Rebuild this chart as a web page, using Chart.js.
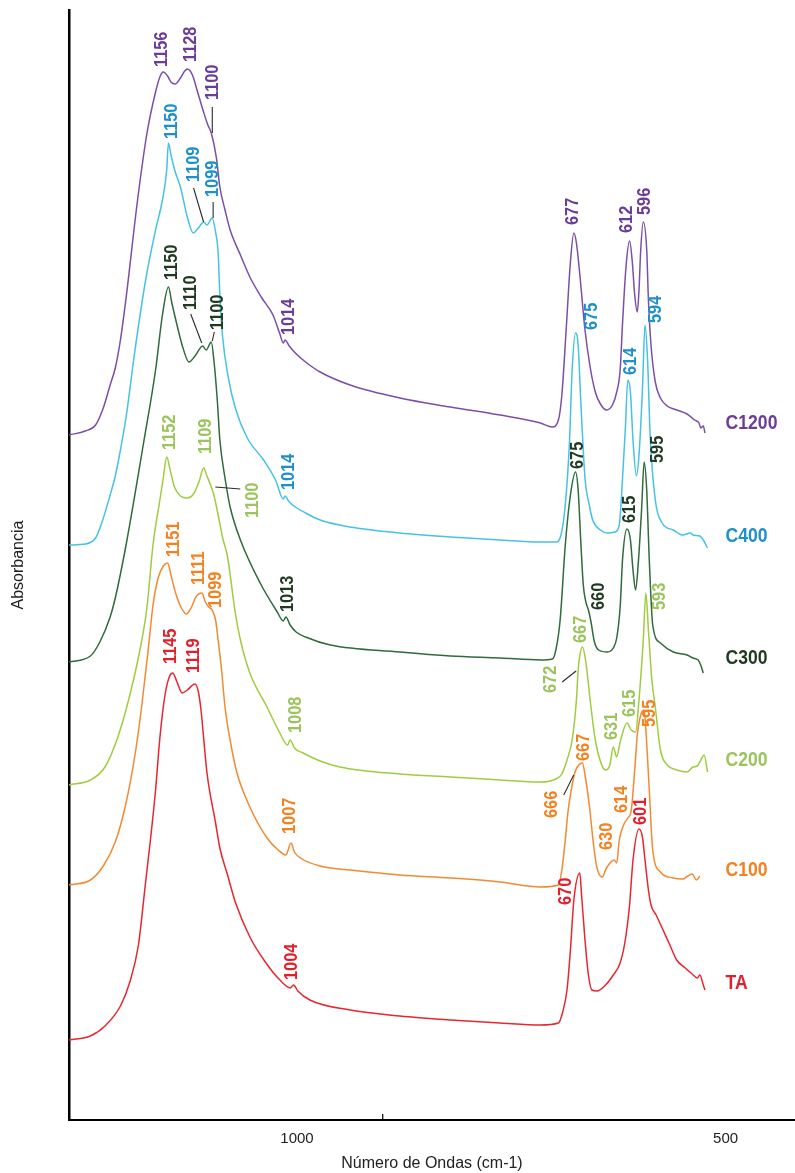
<!DOCTYPE html>
<html>
<head>
<meta charset="utf-8">
<title>Espectros FTIR</title>
<script src="https://cdn.jsdelivr.net/npm/chart.js@4/dist/chart.umd.min.js"></script>
<style>
  html, body { margin: 0; padding: 0; background: #fff; }
  canvas { display: block; }
</style>
</head>
<body>
<canvas id="c" width="795" height="1173"></canvas>
<script>
// Stacked absorbance spectra: [wavenumber (cm-1), absorbance (a.u., offset per sample)]
const c1200 = [[1266,0.685],[1247,0.689],[1235,0.695],[1226,0.712],[1218,0.735],[1212,0.752],[1206,0.780],[1199,0.825],[1186,0.920],[1175,0.987],
  [1165,1.028],[1160,1.043],[1156,1.048],[1151,1.044],[1147,1.038],[1142,1.036],[1136,1.042],[1131,1.049],[1128,1.051],[1122,1.045],
  [1116,1.028],[1109,1.008],[1104,0.995],[1100,0.987],[1094,0.962],[1090,0.933],[1084,0.910],[1078,0.890],[1066,0.865],[1055,0.843],
  [1041,0.822],[1028,0.805],[1020,0.786],[1016,0.777],[1014,0.780],[1009,0.774],[1002,0.767],[990,0.758],[973,0.748],[938,0.735],
  [880,0.722],[821,0.713],[763,0.705],[716,0.697],[702,0.693],[695,0.700],[691,0.725],[686,0.790],[681,0.858],[677,0.887],
  [674,0.877],[670,0.845],[664,0.790],[658,0.753],[652,0.728],[646,0.716],[639,0.710],[632,0.715],[627,0.728],[623,0.750],
  [620,0.800],[616,0.855],[612,0.879],[609,0.860],[606,0.825],[603,0.808],[601,0.830],[599,0.870],[596,0.898],[592,0.870],
  [590,0.820],[587,0.775],[582,0.738],[576,0.722],[568,0.714],[557,0.710],[545,0.706],[536,0.700],[531,0.697],[529,0.692],
  [526,0.694],[524,0.687]];

const c400 = [[1266,0.575],[1247,0.576],[1235,0.582],[1229,0.594],[1218,0.625],[1212,0.644],[1206,0.670],[1199,0.705],[1189,0.770],[1176,0.843],
  [1165,0.890],[1157,0.920],[1152,0.950],[1150,0.977],[1147,0.965],[1142,0.948],[1136,0.933],[1128,0.903],[1121,0.887],[1115,0.892],
  [1109,0.898],[1105,0.895],[1099,0.902],[1095,0.888],[1092,0.867],[1090,0.825],[1087,0.785],[1080,0.742],[1072,0.712],[1058,0.682],
  [1039,0.660],[1025,0.640],[1016,0.621],[1014,0.624],[1009,0.618],[1002,0.613],[990,0.607],[973,0.600],[938,0.593],[880,0.587],
  [821,0.583],[763,0.580],[716,0.578],[698,0.578],[692,0.585],[687,0.615],[682,0.680],[679,0.750],[675,0.787],[672,0.775],
  [669,0.720],[664,0.642],[659,0.615],[655,0.600],[646,0.590],[638,0.587],[629,0.588],[624,0.595],[621,0.630],[617,0.690],
  [614,0.740],[611,0.728],[608,0.680],[604,0.644],[601,0.665],[597,0.730],[594,0.795],[591,0.760],[588,0.685],[582,0.620],
  [574,0.597],[561,0.590],[550,0.585],[541,0.587],[538,0.585],[530,0.584],[526,0.580],[521,0.572]];

const c300 = [[1266,0.458],[1241,0.464],[1230,0.478],[1218,0.503],[1212,0.522],[1199,0.577],[1179,0.677],[1165,0.750],[1157,0.805],[1150,0.833],
  [1146,0.817],[1140,0.795],[1133,0.772],[1126,0.758],[1119,0.764],[1110,0.774],[1106,0.770],[1100,0.778],[1097,0.760],[1093,0.720],
  [1090,0.680],[1084,0.642],[1078,0.613],[1066,0.580],[1043,0.537],[1023,0.508],[1016,0.499],[1013,0.503],[1008,0.495],[1001,0.488],
  [990,0.483],[961,0.475],[880,0.468],[821,0.464],[763,0.462],[716,0.460],[702,0.461],[698,0.470],[693,0.500],[687,0.575],
  [681,0.625],[675,0.648],[672,0.630],[669,0.580],[666,0.535],[663,0.518],[660,0.510],[657,0.498],[653,0.478],[648,0.470],
  [638,0.468],[631,0.472],[627,0.482],[623,0.513],[620,0.563],[615,0.591],[611,0.580],[608,0.550],[605,0.530],[602,0.555],
  [598,0.610],[595,0.658],[592,0.630],[589,0.560],[585,0.495],[576,0.477],[561,0.468],[545,0.465],[538,0.462],[532,0.460],
  [529,0.455],[526,0.447]];

const c200 = [[1266,0.335],[1241,0.340],[1224,0.353],[1209,0.383],[1195,0.425],[1181,0.480],[1175,0.513],[1168,0.575],[1160,0.620],[1156,0.642],
  [1152,0.663],[1148,0.650],[1143,0.633],[1136,0.624],[1128,0.622],[1120,0.627],[1114,0.639],[1109,0.652],[1105,0.644],[1100,0.633],
  [1097,0.625],[1092,0.605],[1087,0.583],[1081,0.563],[1072,0.507],[1066,0.480],[1055,0.447],[1035,0.413],[1020,0.387],[1011,0.375],
  [1008,0.380],[1003,0.372],[993,0.367],[973,0.359],[950,0.353],[880,0.346],[821,0.343],[763,0.340],[716,0.338],[698,0.341],
  [691,0.346],[685,0.360],[679,0.380],[674,0.420],[672,0.450],[670,0.465],[667,0.473],[663,0.458],[658,0.420],[652,0.380],
  [644,0.354],[640,0.350],[635,0.355],[631,0.373],[627,0.363],[623,0.378],[615,0.397],[610,0.390],[605,0.388],[601,0.420],
  [596,0.480],[593,0.527],[590,0.490],[586,0.440],[582,0.413],[576,0.370],[568,0.355],[557,0.350],[545,0.348],[538,0.353],
  [533,0.354],[530,0.358],[525,0.365],[521,0.348]];

const c100 = [[1266,0.235],[1241,0.240],[1226,0.254],[1212,0.278],[1200,0.315],[1189,0.365],[1181,0.415],[1173,0.475],[1168,0.515],[1162,0.542],
  [1156,0.554],[1151,0.557],[1147,0.545],[1142,0.528],[1136,0.514],[1129,0.506],[1123,0.513],[1118,0.523],[1111,0.527],[1107,0.518],
  [1103,0.513],[1099,0.510],[1095,0.500],[1092,0.480],[1088,0.450],[1084,0.413],[1077,0.375],[1070,0.347],[1055,0.313],[1035,0.282],
  [1022,0.270],[1013,0.265],[1007,0.277],[1003,0.268],[996,0.262],[973,0.254],[938,0.250],[880,0.245],[821,0.242],[763,0.238],
  [716,0.233],[695,0.235],[691,0.250],[687,0.280],[684,0.307],[680,0.330],[676,0.347],[673,0.353],[667,0.357],[664,0.345],
  [659,0.315],[654,0.275],[650,0.252],[644,0.243],[639,0.252],[630,0.260],[627,0.257],[624,0.280],[619,0.295],[614,0.302],
  [610,0.310],[606,0.350],[603,0.385],[599,0.405],[595,0.410],[593,0.390],[589,0.330],[585,0.270],[576,0.248],[561,0.242],
  [550,0.241],[544,0.244],[539,0.246],[534,0.240],[530,0.244]];

const ta = [[1266,0.080],[1241,0.084],[1224,0.094],[1206,0.114],[1195,0.138],[1185,0.175],[1177,0.235],[1171,0.280],[1165,0.330],[1160,0.382],
  [1154,0.425],[1149,0.443],[1145,0.447],[1140,0.438],[1134,0.427],[1128,0.430],[1119,0.436],[1115,0.428],[1112,0.410],[1105,0.347],
  [1095,0.297],[1090,0.272],[1081,0.245],[1072,0.218],[1055,0.183],[1037,0.158],[1020,0.140],[1008,0.132],[1004,0.135],[999,0.129],
  [985,0.120],[938,0.110],[880,0.104],[821,0.100],[763,0.097],[716,0.095],[695,0.097],[690,0.108],[685,0.130],[681,0.170],
  [677,0.220],[670,0.247],[668,0.225],[664,0.180],[660,0.145],[656,0.130],[650,0.129],[640,0.135],[631,0.145],[623,0.157],
  [617,0.180],[612,0.215],[608,0.260],[601,0.291],[597,0.283],[594,0.260],[590,0.230],[587,0.215],[581,0.205],[574,0.192],
  [565,0.175],[557,0.160],[547,0.152],[539,0.146],[533,0.142],[530,0.145],[526,0.135],[524,0.130]];

// Band positions marked on each spectrum (cm-1)
const c1200Peaks = [1156, 1128, 1100, 1014, 677, 612, 596];
const c400Peaks  = [1150, 1109, 1099, 1014, 675, 614, 594];
const c300Peaks  = [1150, 1110, 1100, 1013, 675, 660, 615, 595];
const c200Peaks  = [1152, 1109, 1100, 1008, 672, 667, 631, 615, 593];
const c100Peaks  = [1151, 1111, 1099, 1007, 666, 667, 630, 614, 595];
const taPeaks    = [1145, 1119, 1004, 670, 601];

const sampleNames = ['C1200', 'C400', 'C300', 'C200', 'C100', 'TA'];
const xTickValues = [1000, 900, 500];
const xTickLabels = ['1000', '', '500'];

// Styling for each sample (line colour, label colour)
const styles = {
  C1200: { line: '#7b4fa8', text: '#6b3c98' },
  C400:  { line: '#45c2e6', text: '#1d8fcb' },
  C300:  { line: '#2f6b3c', text: '#1f3a20' },
  C200:  { line: '#9fcd3f', text: '#9bc55c' },
  C100:  { line: '#f28a33', text: '#f2821f' },
  TA:    { line: '#e8262e', text: '#e2202b' }
};

// Where the sample name sits on the right (wavenumber, absorbance)
const nameAnchor = { C1200: [500, 0.697], C400: [500, 0.584], C300: [500, 0.462], C200: [500, 0.360], C100: [500, 0.250], TA: [500, 0.137] };

// Band label placement: offsets in px from the band point; optional leader line; optional anchor override
const labelLayout = {
  'C1200:1156': { dx: -2, dy: -5 },
  'C1200:1128': { dx: 3, dy: -7 },
  'C1200:1100': { dx: 1, dy: -33, leader: [1, 0, 1, -26] },
  'C1200:1014': { dx: 4, dy: -5 },
  'C1200:677':  { dx: -1, dy: -8 },
  'C1200:612':  { dx: -3, dy: -8 },
  'C1200:596':  { dx: 1, dy: -7 },

  'C400:1150': { dx: 3, dy: -4 },
  'C400:1109': { dx: -10, dy: -40, leader: [0, 0, -10, -34] },
  'C400:1099': { dx: 1, dy: -21, leader: [1, 0, 1, -16] },
  'C400:1014': { dx: 4, dy: -6 },
  'C400:675':  { dx: 16, dy: -3 },
  'C400:614':  { dx: 3, dy: -5 },
  'C400:594':  { dx: 11, dy: -2 },

  'C300:1150': { dx: 3, dy: -7 },
  'C300:1110': { dx: -12, dy: -36, leader: [-1, -3, -12, -32] },
  'C300:1100': { dx: 6, dy: -12, leader: [1, -1, 3, -10] },
  'C300:1013': { dx: 2, dy: -5 },
  'C300:675':  { dx: 2, dy: -3 },
  'C300:660':  { dx: 10, dy: 0 },
  'C300:615':  { dx: 3, dy: -6 },
  'C300:595':  { dx: 14, dy: 1 },

  'C200:1152': { dx: 3, dy: -7 },
  'C200:1109': { dx: 2, dy: -14 },
  'C200:1100': { dx: 41, dy: 31, leader: [4, 0, 29, 2] },
  'C200:1008': { dx: 6, dy: -7 },
  'C200:672':  { dx: -27, dy: 23, leader: [-2, 1, -16, 12] },
  'C200:667':  { dx: -2, dy: -4 },
  'C200:631':  { dx: -2, dy: -7 },
  'C200:615':  { dx: 3, dy: -6 },
  'C200:593':  { dx: 14, dy: 17 },

  'C100:1151': { dx: 6, dy: -6 },
  'C100:1111': { dx: -3, dy: -8 },
  'C100:1099': { dx: 4, dy: -2 },
  'C100:1007': { dx: -1, dy: -9 },
  'C100:666':  { at: 676, dx: -23, dy: 45, leader: [-1, 2, -11, 22] },
  'C100:667':  { dx: 1, dy: -2 },
  'C100:630':  { dx: -7, dy: -10 },
  'C100:614':  { dx: -6, dy: -5 },
  'C100:595':  { dx: 6, dy: 17 },

  'TA:1145': { dx: -2, dy: -9 },
  'TA:1119': { dx: -1, dy: -11 },
  'TA:1004': { dx: -2, dy: -5 },
  'TA:670':  { dx: -14, dy: 32 },
  'TA:601':  { dx: 2, dy: -4 }
};

const spectra = { C1200: c1200, C400: c400, C300: c300, C200: c200, C100: c100, TA: ta };
const peaks = { C1200: c1200Peaks, C400: c400Peaks, C300: c300Peaks, C200: c200Peaks, C100: c100Peaks, TA: taPeaks };

// Absorbance of a spectrum at any wavenumber (linear between samples)
function absAt(data, wn) {
  for (let i = 0; i < data.length - 1; i++) {
    const [w0, a0] = data[i], [w1, a1] = data[i + 1];
    if ((wn <= w0 && wn >= w1) || (wn >= w0 && wn <= w1)) {
      if (w0 === w1) return a0;
      return a0 + (a1 - a0) * (wn - w0) / (w1 - w0);
    }
  }
  return data[data.length - 1][1];
}

// Condensed bold lettering: drawn slightly narrowed along the text direction
const LABEL_FONT = 'bold 19px "Liberation Sans", Arial, sans-serif';
const LABEL_SQUEEZE = 0.86;
const NAME_FONT = 'bold 20px "Liberation Sans", Arial, sans-serif';
const NAME_SQUEEZE = 0.88;
const AXIS_FAMILY = '"Liberation Sans", Arial, sans-serif';

const bandLabels = {
  id: 'bandLabels',
  afterDatasetsDraw(chart) {
    const { ctx, scales: { x, y }, chartArea } = chart;
    ctx.save();

    // small tick on the wavenumber axis
    const tx = x.getPixelForValue(xTickValues[1]);
    ctx.strokeStyle = '#000';
    ctx.lineWidth = 1.2;
    ctx.beginPath();
    ctx.moveTo(tx, chartArea.bottom - 6);
    ctx.lineTo(tx, chartArea.bottom);
    ctx.stroke();

    sampleNames.forEach(name => {
      const data = spectra[name];
      const st = styles[name];
      peaks[name].forEach(p => {
        const lay = labelLayout[name + ':' + p] || { dx: 0, dy: -6 };
        const wn = lay.at !== undefined ? lay.at : p;
        const ax = x.getPixelForValue(wn);
        const ay = y.getPixelForValue(absAt(data, wn));
        if (lay.leader) {
          const [x1, y1, x2, y2] = lay.leader;
          ctx.strokeStyle = '#2a2a2a';
          ctx.lineWidth = 1.1;
          ctx.beginPath();
          ctx.moveTo(ax + x1, ay + y1);
          ctx.lineTo(ax + x2, ay + y2);
          ctx.stroke();
        }
        ctx.save();
        ctx.translate(ax + lay.dx, ay + lay.dy);
        ctx.rotate(-Math.PI / 2);
        ctx.scale(LABEL_SQUEEZE, 1);
        ctx.font = LABEL_FONT;
        ctx.fillStyle = st.text;
        ctx.textAlign = 'left';
        ctx.textBaseline = 'middle';
        ctx.fillText(String(p), 0, 0);
        ctx.restore();
      });

      const [nw, na] = nameAnchor[name];
      ctx.save();
      ctx.translate(x.getPixelForValue(nw), y.getPixelForValue(na));
      ctx.scale(NAME_SQUEEZE, 1);
      ctx.font = NAME_FONT;
      ctx.fillStyle = st.text;
      ctx.textAlign = 'left';
      ctx.textBaseline = 'middle';
      ctx.fillText(name, 0, 0);
      ctx.restore();
    });
    ctx.restore();
  }
};

new Chart(document.getElementById('c'), {
  type: 'line',
  data: {
    datasets: sampleNames.map(name => ({
      label: name,
      data: spectra[name].map(([wn, a]) => ({ x: wn, y: a })),
      borderColor: styles[name].line,
      borderWidth: 1.5,
      pointRadius: 0,
      fill: false,
      cubicInterpolationMode: 'monotone'
    }))
  },
  options: {
    responsive: false,
    devicePixelRatio: 1,
    animation: false,
    layout: { padding: { top: 10, left: 0, right: 0, bottom: 0 } },
    plugins: { legend: { display: false }, tooltip: { enabled: false } },
    scales: {
      x: {
        type: 'linear',
        reverse: true,
        min: 419,
        max: 1266,
        afterBuildTicks: scale => { scale.ticks = xTickValues.map(v => ({ value: v })); },
        afterFit: scale => { scale.height = 53; },
        ticks: {
          autoSkip: false,
          maxRotation: 0,
          padding: 10,
          color: '#222',
          font: { family: AXIS_FAMILY, size: 15 },
          callback: value => xTickLabels[xTickValues.indexOf(value)]
        },
        grid: { display: false, drawTicks: false },
        border: { display: true, color: '#000', width: 2 },
        title: {
          display: true,
          text: 'Número de Ondas (cm-1)',
          color: '#222',
          font: { family: AXIS_FAMILY, size: 16 },
          padding: { top: 0, bottom: 0 }
        }
      },
      y: {
        type: 'linear',
        min: 0,
        max: 1.11,
        afterFit: scale => { scale.width = 69; },
        ticks: { display: false },
        grid: { display: false, drawTicks: false },
        border: { display: true, color: '#000', width: 2.5 },
        title: {
          display: true,
          text: 'Absorbancia',
          color: '#222',
          font: { family: AXIS_FAMILY, size: 16 },
          padding: { top: 9, bottom: 0 }
        }
      }
    }
  },
  plugins: [bandLabels]
});
</script>
</body>
</html>
